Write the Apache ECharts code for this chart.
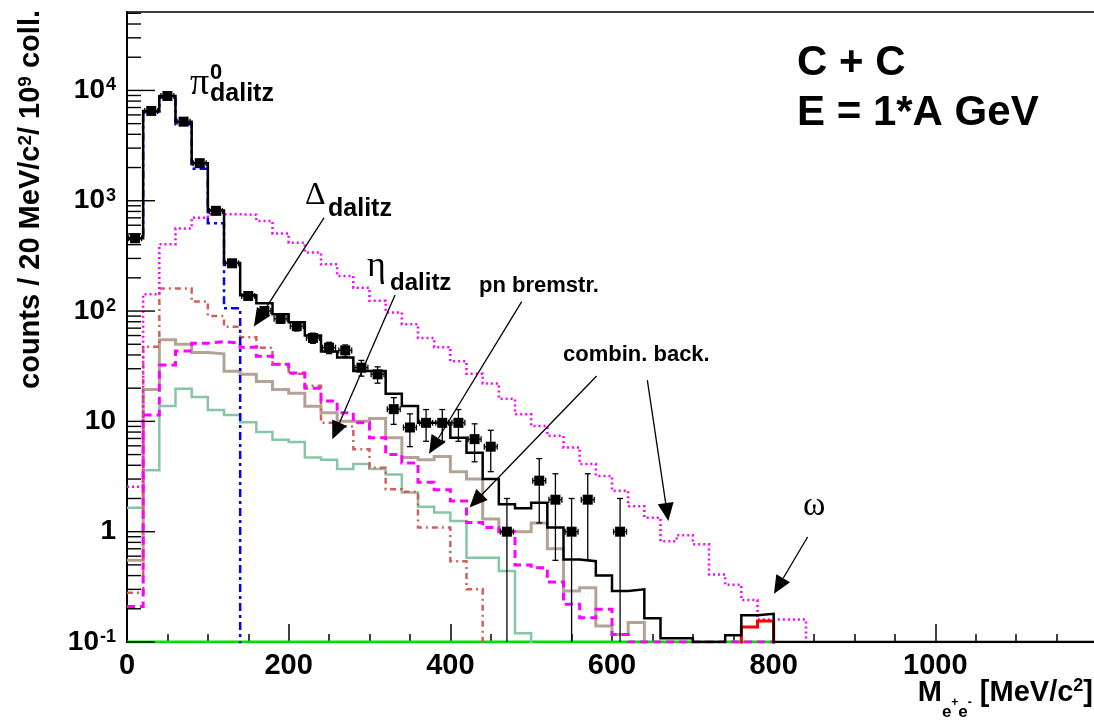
<!DOCTYPE html>
<html><head><meta charset="utf-8">
<script src="https://cdn.jsdelivr.net/npm/echarts@6/dist/echarts.min.js"></script>
<style>html,body{margin:0;padding:0;background:#fff}#c{width:1094px;height:721px}</style>
</head><body><div id="c"></div>
<script>
// ---------- data (counts per 20 MeV bin, bins start at 0 MeV) ----------
const BIN = 20;
const BELOW = 0.001;   // off-scale low (below frame)
const FLOOR = 0.1;     // drawn on the frame bottom
const X_MAX = 1200, Y_MIN = 0.1, Y_MAX = 51400;

const totalVals = [457, 6520, 8900, 5210, 2190, 815, 272, 139, 118, 93.5, 79, 60, 43, 38, 28.6, 28.6, 17.8, 13.8, 9.7, 9.7,
  7.1, 5.2, 3.0, 1.77, 1.63, 1.83, 1.09, 0.56, 0.54, 0.40, 0.29, 0.30, 0.164, 0.108, 0.108, 0.1, 0.1, 0.115, 0.175, 0.18,
  0.1, 0.1, 0.1, 0.1, 0.1, 0.1, 0.1, 0.1, 0.1, 0.1, 0.1, 0.1, 0.1, 0.1, 0.1, 0.1, 0.1, 0.1, 0.1, 0.1];
const pi0Vals = [454, 6440, 8640, 4940, 1950, 625, 106, BELOW];
const dottedVals = [2.56, 142, 404, 560, 703, 754, 754, 745, 656, 505, 417, 339, 265, 208, 163, 124, 97, 76, 57, 47,
  35, 27, 22, 16, 11.6, 9.1, 7.4, 5.8, 4.1, 3.2, 2.35, 1.7, 1.34, 0.82, 0.93, 0.77, 0.41, 0.33, 0.24, 0.16, 0.16, 0.16, BELOW];
const etaVals = [0.28, 47.5, 160, 160, 122, 90, 72, 58, 46.6, 33, 27, 21, 9.7, 9, 5.6, 3.8, 2.42, 2.3, 1.09, 1.09, 0.54, 0.30, BELOW];
const dashedVals = [0.21, 11.4, 32.5, 43.5, 51, 52.8, 51, 47, 39, 33, 27.5, 20, 15.3, 12, 9.7, 7.1, 5.0, 4.2, 2.8, 2.4,
  1.9, 1.21, 1.09, 1.0, 0.50, 0.47, 0.35, 0.22, 0.166, 0.198, 0.117, 0.1, 0.1, 0.1, 0.1, 0.1, 0.1, 0.1, 0.1, 0.1, BELOW];
const bremVals = [0.55, 19.4, 55, 50, 42, 41, 28.5, 26.7, 23, 19.5, 18, 13.7, 12, 10, 10, 10.6, 7.1, 4.7, 4.5, 4.8,
  3.5, 3.0, 1.3, 1.0, 1.0, 1.2, 0.7, 0.29, 0.31, 0.14, 0.117, 0.15, BELOW];
const tealVals = [1.65, 3.6, 13.8, 19.8, 16.6, 12.7, 11.4, 9.8, 8.0, 6.8, 6.5, 4.7, 4.5, 3.7, 4.1, 3.7, 3.3, 2.26, 1.68, 1.49,
  1.25, 0.58, 0.58, 0.44, 0.12, BELOW];
const greenVals = [0.1, 0.1, 0.1, 0.1, 0.1, 0.1, 0.1, 0.1, 0.1, 0.1, 0.1, 0.1, 0.1, 0.1, 0.1, 0.1, 0.1, 0.1, 0.1, 0.1,
  0.1, 0.1, 0.1, 0.1, 0.1, 0.1, 0.1, 0.1, 0.1, 0.1, 0.1, 0.1, 0.1, 0.1, 0.1, 0.1, 0.1, 0.1, 0.1, 0.1];
const omegaStart = 740;
const omegaVals = [BELOW, 0.137, 0.155, BELOW];

// measured points (bin centre, counts, error)
const ptX   = [10, 30, 50, 70, 90, 110, 130, 150, 170, 190, 210, 230, 250, 270, 290, 310, 330, 350, 370, 390, 410, 430, 450, 470, 510, 530, 550, 570, 610];
const ptY   = [457, 6520, 8900, 5210, 2190, 810, 271, 137, 100, 85, 73, 57, 46.6, 44, 30.7, 26.7, 12.9, 8.8, 9.7, 9.7, 9.7, 6.9, 5.9, 1.0, 2.9, 1.95, 1.0, 1.95, 1.0];
const ptErr = [20, 80, 95, 70, 45, 28, 16, 11, 8, 7.5, 7, 6, 5.5, 5.3, 5, 4.5, 3.5, 2.9, 3.1, 3.1, 3.1, 2.6, 2.4, 1.0, 1.7, 1.4, 1.0, 1.4, 1.0];
const ptXErr = 8;

// axis ticks
const yDecades = [0.1, 1, 10, 100, 1000, 10000];
const yMinorFactors = [2, 3, 4, 5, 6, 7, 8, 9];

// ---------- helpers ----------
function hist(vals, start) {
  start = start || 0;
  const d = vals.map((v, i) => [start + i * BIN, v]);
  d.push([start + vals.length * BIN, vals[vals.length - 1]]);
  return d;
}
function hs(vals, color, width, dash, z, start) {
  return { type: 'line', step: 'end', data: hist(vals, start), symbol: 'none', showSymbol: false,
    lineStyle: { color: color, width: width, type: dash || 'solid', cap: 'butt', join: 'miter' },
    z: z, clip: true, silent: true, animation: false };
}
const SANS = '"Liberation Sans", Arial, sans-serif';
const SERIF = '"Liberation Serif", "Times New Roman", serif';

const yTicks = [];
yDecades.forEach(d => {
  yTicks.push([0, d, 1]);
  yMinorFactors.forEach(f => { if (d * f < Y_MAX) yTicks.push([0, d * f, 0]); });
});

const chart = echarts.init(document.getElementById('c'), null, { renderer: 'canvas', width: 1094, height: 721 });

const option = {
  animation: false,
  backgroundColor: '#fff',
  grid: { left: 127, top: 12, right: -3, bottom: 79, show: true, borderColor: '#000', borderWidth: 1.5,
          containLabel: false, outerBoundsMode: 'none' },
  xAxis: {
    type: 'value', min: 0, max: X_MAX, interval: 200,
    axisLine: { show: true, lineStyle: { color: '#000', width: 2 } },
    axisTick: { show: true, inside: true, length: 18, lineStyle: { color: '#000', width: 1.5 } },
    minorTick: { show: true, splitNumber: 4, length: 8, lineStyle: { color: '#000', width: 1.5 } },
    splitLine: { show: false },
    axisLabel: { color: '#000', fontSize: 29, fontWeight: 'bold', fontFamily: SANS, margin: 9,
      formatter: v => (v >= X_MAX ? '' : String(v)) }
  },
  yAxis: {
    type: 'log', logBase: 10, min: Y_MIN, max: Y_MAX,
    axisLine: { show: true, lineStyle: { color: '#000', width: 2 } },
    axisTick: { show: false },
    splitLine: { show: false },
    axisLabel: {
      margin: 11, color: '#000',
      formatter: function (v) {
        const e = Math.log10(v), r = Math.round(e);
        if (Math.abs(e - r) > 1e-6) return '';
        if (r === 0) return '{b|1}';
        if (r === 1) return '{b|10}';
        return '{b|10}{s|' + r + '}';
      },
      rich: {
        b: { fontSize: 28, fontWeight: 'bold', fontFamily: SANS, color: '#000', lineHeight: 28, verticalAlign: 'bottom' },
        s: { fontSize: 18, fontWeight: 'bold', fontFamily: SANS, color: '#000', lineHeight: 18, verticalAlign: 'top', padding: [0, 0, 20, 1] }
      }
    }
  },
  series: [
    hs(greenVals, '#00e000', 3, 'solid', 2),
    hs(tealVals, '#86c6a6', 2.5, 'solid', 3),
    hs(bremVals, '#b4a294', 3, 'solid', 3),
    hs(etaVals, '#d0605a', 2.5, [6, 4, 2, 4], 4),
    hs(dashedVals, '#ff00ff', 3, [8, 5], 4),
    hs(dottedVals, '#ff00ff', 2.5, [2, 3], 4),
    hs(pi0Vals, '#0000ff', 2.5, [8, 4, 3, 4], 5),
    hs(omegaVals, '#ff0000', 3, 'solid', 5, omegaStart),
    hs(totalVals, '#000000', 2.5, 'solid', 6),
    {
      type: 'custom', z: 10, silent: true, clip: false,
      data: ptX.map((x, i) => [x, ptY[i], ptErr[i]]),
      encode: { x: 0, y: 1 },
      renderItem: function (params, api) {
        const x = api.value(0), y = api.value(1), e = api.value(2);
        const loClamped = (y - e) <= Y_MIN;
        const lo = loClamped ? Y_MIN : y - e, hi = y + e;
        const pc = api.coord([x, y]), pl = api.coord([x, lo]), ph = api.coord([x, hi]);
        const pxl = api.coord([x - ptXErr, y]), pxr = api.coord([x + ptXErr, y]);
        const cap = 3, st = { stroke: '#000', lineWidth: 1.3 };
        const L = (a, b, c, d) => ({ type: 'line', shape: { x1: a, y1: b, x2: c, y2: d }, style: st });
        const ch = [L(pc[0], pl[1], pc[0], ph[1]), L(pc[0] - cap, ph[1], pc[0] + cap, ph[1]),
          L(pxl[0], pc[1], pxr[0], pc[1]), L(pxl[0], pc[1] - cap, pxl[0], pc[1] + cap), L(pxr[0], pc[1] - cap, pxr[0], pc[1] + cap)];
        if (!loClamped) ch.push(L(pc[0] - cap, pl[1], pc[0] + cap, pl[1]));
        return { type: 'group', children: ch };
      }
    },
    { type: 'scatter', data: ptX.map((x, i) => [x, ptY[i]]), symbol: 'rect', symbolSize: 10,
      itemStyle: { color: '#000', opacity: 1 }, z: 11, silent: true },
    {
      type: 'custom', z: 12, silent: true, clip: false,
      data: yTicks, encode: { x: 0, y: 1 },
      renderItem: function (params, api) {
        const p = api.coord([api.value(0), api.value(1)]);
        const len = api.value(2) ? 28 : 14;
        return { type: 'line', shape: { x1: p[0], y1: p[1], x2: p[0] + len, y2: p[1] }, style: { stroke: '#000', lineWidth: 1.4 } };
      }
    }
  ]
};
chart.setOption(option);

// ---------- annotations (placed in data coordinates) ----------
const arrows = [
  [[243.7, 698], [157, 72.4]],     // Delta
  [[331.6, 140], [254, 6.88]],     // eta
  [[488.3, 121.6], [373.6, 5.1]],  // pn bremstr.
  [[581, 25.8], [423.7, 1.66]],    // combin. back. (1)
  [[643.7, 23.7], [669.7, 1.25]],  // combin. back. (2)
  [[842, 0.895], [800.4, 0.274]]   // omega
];
const texts = [
  { at: [78, 11440], t: 'π', font: '38px ' + SERIF },
  { at: [102.7, 14540], t: '0', font: 'bold 22px ' + SANS },
  { at: [102.7, 9290], t: 'dalitz', font: 'bold 25px ' + SANS },
  { at: [220.2, 1104], t: 'Δ', font: '32px ' + SERIF },
  { at: [248.7, 841], t: 'dalitz', font: 'bold 25px ' + SANS },
  { at: [296.9, 255], t: 'η', font: '36px ' + SERIF },
  { at: [325.4, 179.7], t: 'dalitz', font: 'bold 24px ' + SANS },
  { at: [435.5, 168.7], t: 'pn bremstr.', font: 'bold 22px ' + SANS },
  { at: [539.4, 40], t: 'combin. back.', font: 'bold 22px ' + SANS },
  { at: [836.3, 1.71], t: 'ω', font: '34px ' + SERIF },
  { at: [828.9, 17740], t: 'C + C', font: 'bold 42px ' + SANS },
  { at: [828.9, 6247], t: 'E = 1*A GeV', font: 'bold 42px ' + SANS }
];
function P(pt) { return chart.convertToPixel({ gridIndex: 0 }, pt); }
const gfx = [];
arrows.forEach(a => {
  const p0 = P(a[0]), p1 = P(a[1]);
  const dx = p1[0] - p0[0], dy = p1[1] - p0[1], n = Math.hypot(dx, dy);
  const ux = dx / n, uy = dy / n, HL = 18, HW = 8;
  const bx = p1[0] - ux * HL, by = p1[1] - uy * HL;
  gfx.push({ type: 'line', z: 100, shape: { x1: p0[0], y1: p0[1], x2: bx, y2: by }, style: { stroke: '#000', lineWidth: 1.3 } });
  gfx.push({ type: 'polygon', z: 100, shape: { points: [[p1[0], p1[1]], [bx - uy * HW, by + ux * HW], [bx + uy * HW, by - ux * HW]] }, style: { fill: '#000' } });
});
texts.forEach(o => {
  const p = P(o.at);
  gfx.push({ type: 'text', z: 100, x: p[0], y: p[1], style: { text: o.t, font: o.font, fill: '#000', align: 'left', verticalAlign: 'middle' } });
});
// axis titles
gfx.push({ type: 'text', z: 100, x: 31, y: 10, rotation: Math.PI / 2,
  style: { text: '{t|counts / 20 MeV/c}{s|2}{t|/ 10}{s|9}{t| coll.}', align: 'right', verticalAlign: 'middle',
    rich: { t: { font: 'bold 29px ' + SANS, fill: '#000', lineHeight: 29, verticalAlign: 'bottom' },
            s: { font: 'bold 19px ' + SANS, fill: '#000', lineHeight: 19, verticalAlign: 'top', padding: [0, 0, 16, 0] } } } });
gfx.push({ type: 'text', z: 100, x: 1093, y: 693,
  style: { text: '{m|M}{sub|e}{ss|+}{sub|e}{ss|-}{m| [MeV/c}{sup|2}{m|]}', align: 'right', verticalAlign: 'middle',
    rich: { m: { font: 'bold 29px ' + SANS, fill: '#000', lineHeight: 56, verticalAlign: 'middle' },
            sub: { font: 'bold 17px ' + SANS, fill: '#000', lineHeight: 17, verticalAlign: 'bottom' },
            ss: { font: 'bold 12px ' + SANS, fill: '#000', lineHeight: 12, verticalAlign: 'bottom', padding: [0, 0, 12, 0] },
            sup: { font: 'bold 18px ' + SANS, fill: '#000', lineHeight: 18, verticalAlign: 'top', padding: [12, 0, 0, 0] } } } });
chart.setOption({ graphic: gfx });
</script>
</body></html>
